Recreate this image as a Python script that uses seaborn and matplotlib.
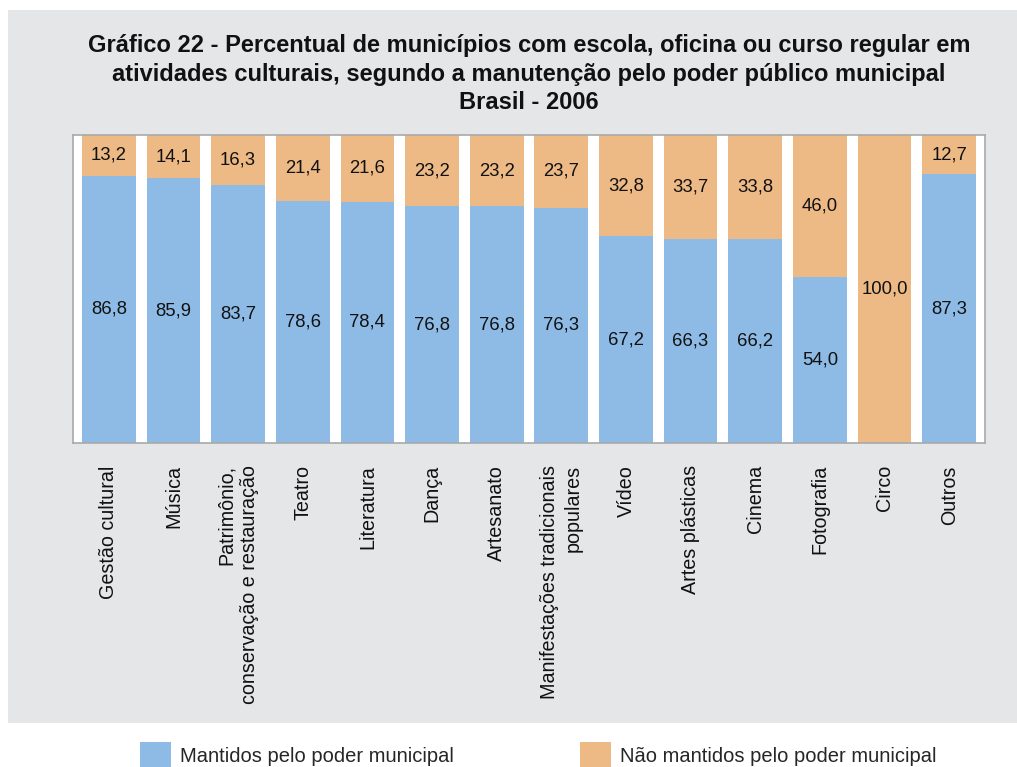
import matplotlib
matplotlib.use("Agg")
import matplotlib.pyplot as plt
import matplotlib.patches as mpatches
import seaborn as sns
import pandas as pd
import numpy as np

categories = ["Gestão cultural", "Música", "Patrimônio,\nconservação e restauração", "Teatro",
              "Literatura", "Dança", "Artesanato", "Manifestações tradicionais\npopulares",
              "Vídeo", "Artes plásticas", "Cinema", "Fotografia", "Circo", "Outros"]
mantidos = [86.8, 85.9, 83.7, 78.6, 78.4, 76.8, 76.8, 76.3, 67.2, 66.3, 66.2, 54.0, 0.0, 87.3]
nao_mantidos = [13.2, 14.1, 16.3, 21.4, 21.6, 23.2, 23.2, 23.7, 32.8, 33.7, 33.8, 46.0, 100.0, 12.7]

title = ("Gráfico 22 - Percentual de municípios com escola, oficina ou curso regular em\n"
         "atividades culturais, segundo a manutenção pelo poder público municipal\n"
         "Brasil - 2006")
legend_labels = ["Mantidos pelo poder municipal", "Não mantidos pelo poder municipal"]

BLUE = "#8DBBE5"
ORANGE = "#EDBA86"
GRAY_BG = "#E5E6E8"

sns.set_theme(style="white")
plt.rcParams['font.family'] = ['Liberation Sans', 'DejaVu Sans']

df = pd.DataFrame({"cat": categories, "m": mantidos, "n": nao_mantidos})
df["total"] = df["m"] + df["n"]

W, H = 1017, 767
fig = plt.figure(figsize=(W / 100, H / 100), dpi=100, facecolor="white")
# gray panel
fig.patches.append(mpatches.Rectangle((8 / W, 1 - 723 / H), (W - 8) / W, (723 - 10) / H,
                                      transform=fig.transFigure, facecolor=GRAY_BG,
                                      edgecolor="none", zorder=-10))

ax = fig.add_axes([73 / W, 1 - 443 / H, 912 / W, 308 / H])
ax.set_zorder(1)
ax.set_facecolor("white")

sns.barplot(data=df, x="cat", y="total", color=ORANGE, width=0.83, ax=ax,
            saturation=1, edgecolor="none", linewidth=0)
sns.barplot(data=df, x="cat", y="m", color=BLUE, width=0.83, ax=ax,
            saturation=1, edgecolor="none", linewidth=0)

ax.set_ylim(0, 100)
ax.set_xlim(-0.555, len(categories) - 1 + 0.555)
ax.set_yticks([])
ax.set_xlabel("")
ax.set_ylabel("")

def fmt(v):
    return f"{v:.1f}".replace(".", ",")

for i, (m, n) in enumerate(zip(mantidos, nao_mantidos)):
    if m > 0:
        ax.text(i, m / 2, fmt(m), ha="center", va="center", fontsize=13.3, color="#111111")
    if n > 0:
        ax.text(i, m + n / 2, fmt(n), ha="center", va="center", fontsize=13.3, color="#111111")

ax.set_xticks(range(len(categories)))
ax.set_xticklabels(categories, rotation=90, fontsize=14.2, color="#111111",
                   ha="center", va="top", multialignment="right", linespacing=1.3)
ax.tick_params(axis="x", length=0, pad=16)

for s in ax.spines.values():
    s.set_visible(True)
    s.set_color("#A9A9A9")
    s.set_linewidth(1.2)

fig.text(529 / W, 1 - 74 / H, title, ha="center", va="center", fontsize=17,
         fontweight="bold", color="#111111", linespacing=1.3)

handles = [mpatches.Patch(facecolor=BLUE, edgecolor="none"),
           mpatches.Patch(facecolor=ORANGE, edgecolor="none")]
fig.legend(handles, legend_labels, loc="upper left", bbox_to_anchor=(140 / W, 1 - 742 / H),
           ncol=2, frameon=False, fontsize=14.5, handlelength=1.54, handleheight=1.6,
           handletextpad=0.45, columnspacing=6.25, borderpad=0, borderaxespad=0)

fig.savefig("out.png", dpi=100, facecolor="white")
